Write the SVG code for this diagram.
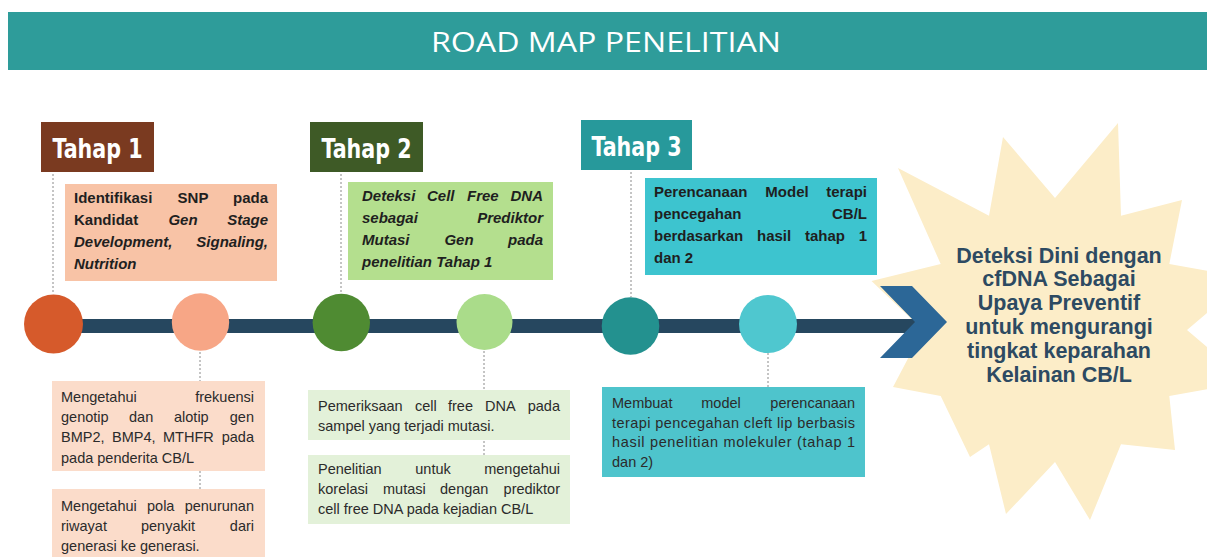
<svg xmlns="http://www.w3.org/2000/svg" width="1207" height="557" viewBox="0 0 1207 557">
  <style>
    .title { font-family: "Open Sans", "Liberation Sans", sans-serif; font-size: 27px; fill: #ffffff; }
    .stage { font-family: "DejaVu Sans Condensed", "DejaVu Sans", sans-serif; font-stretch: condensed; font-weight: bold; font-size: 26px; fill: #ffffff; text-anchor: middle; }
    .tb { font-family: "Liberation Sans", Arial, sans-serif; font-weight: bold; font-size: 15px; fill: #1f1f1f; }
    .it { font-style: italic; }
    .bb { font-family: "Liberation Sans", Arial, sans-serif; font-size: 14.5px; fill: #2b2b2b; }
    .end { text-anchor: end; }
    .mid { text-anchor: middle; }
    .goal { font-family: "Liberation Sans", Arial, sans-serif; font-weight: bold; font-size: 21.5px; fill: #2d4a62; text-anchor: middle; }
    .dash { stroke: #8a8a8a; stroke-width: 1; stroke-dasharray: 2 2; fill: none; }
  </style>

  <rect width="1207" height="557" fill="#ffffff"/>

  <!-- header band -->
  <g id="header">
    <rect x="8" y="12" width="1199" height="58" fill="#2e9c9a"/>
    <text class="title" x="431" y="52" textLength="350" lengthAdjust="spacingAndGlyphs">ROAD MAP PENELITIAN</text>
  </g>

  <!-- goal starburst -->
  <g id="goal">
    <polygon fill="#fcedc8" points="1118,123 1121,215.7 1182,200 1169.3,264 1248,278 1187,330 1248,382 1169.3,396 1175,450 1121,444.3 1090,520 1055,462 1006,514 989,444.3 970,457 940.7,396 893,387 923,330 871.5,281 940.7,264 898,168 989,215.7 1003,137 1055,198"/>
    <text class="goal" x="1059" y="263">Deteksi Dini dengan</text>
    <text class="goal" x="1059" y="286">cfDNA Sebagai</text>
    <text class="goal" x="1059" y="310">Upaya Preventif</text>
    <text class="goal" x="1059" y="334">untuk mengurangi</text>
    <text class="goal" x="1059" y="358">tingkat keparahan</text>
    <text class="goal" x="1059" y="382">Kelainan CB/L</text>
  </g>

  <!-- timeline bar and arrow head -->
  <g id="timeline">
    <rect x="53" y="319" width="865" height="14" fill="#26475f"/>
    <polygon fill="#2c6797" points="880,286 912,286 947,322 912,358 880,358 915,322"/>
  </g>

  <!-- dashed leader lines -->
  <g id="connectors">
    <line class="dash" x1="53" y1="174" x2="53" y2="294"/>
    <line class="dash" x1="341" y1="174" x2="341" y2="293"/>
    <line class="dash" x1="631" y1="172" x2="631" y2="297"/>
    <line class="dash" x1="200" y1="352" x2="200" y2="381"/>
    <line class="dash" x1="200" y1="471" x2="200" y2="489"/>
    <line class="dash" x1="484" y1="351" x2="484" y2="390"/>
    <line class="dash" x1="484" y1="441" x2="484" y2="455"/>
    <line class="dash" x1="768" y1="353" x2="768" y2="387"/>
  </g>

  <!-- milestones -->
  <g id="milestones">
    <circle cx="53.5" cy="324" r="29.5" fill="#d65a2b"/>
    <circle cx="200.5" cy="322" r="28.7" fill="#f7a686"/>
    <circle cx="341.3" cy="322.5" r="28.7" fill="#4f8b32"/>
    <circle cx="484.5" cy="322" r="28" fill="#aadc8a"/>
    <circle cx="630.5" cy="326" r="28.8" fill="#23918f"/>
    <circle cx="768" cy="324" r="29" fill="#4fc7cf"/>
  </g>

  <!-- stage labels -->
  <g id="tahap-1">
    <rect x="41" y="122" width="113" height="50" fill="#7a3a20"/>
    <text class="stage" x="97.5" y="158" textLength="90" lengthAdjust="spacingAndGlyphs">Tahap 1</text>
  </g>
  <g id="tahap-2">
    <rect x="310" y="122" width="113" height="50" fill="#3e5a26"/>
    <text class="stage" x="366.5" y="158" textLength="90" lengthAdjust="spacingAndGlyphs">Tahap 2</text>
  </g>
  <g id="tahap-3">
    <rect x="581" y="120" width="111" height="50" fill="#27999b"/>
    <text class="stage" x="636.5" y="156" textLength="90" lengthAdjust="spacingAndGlyphs">Tahap 3</text>
  </g>

  <!-- stage 1 objective -->
  <g id="objective-1">
    <rect x="65" y="184" width="212" height="97" fill="#f8c3a6"/>
    <text class="tb" y="203"><tspan x="74">Identifikasi</tspan><tspan x="193" class="mid">SNP</tspan><tspan x="268" class="end">pada</tspan></text>
    <text class="tb" y="225"><tspan x="74">Kandidat</tspan><tspan x="183" class="mid it">Gen</tspan><tspan x="268" class="end it">Stage</tspan></text>
    <text class="tb it" y="247"><tspan x="74">Development,</tspan><tspan x="268" class="end">Signaling,</tspan></text>
    <text class="tb it" x="74" y="269">Nutrition</text>
  </g>

  <!-- stage 2 objective -->
  <g id="objective-2">
    <rect x="348" y="182" width="205" height="98" fill="#b4df8e"/>
    <text class="tb it" y="201"><tspan x="362">Deteksi</tspan><tspan x="427">Cell</tspan><tspan x="467">Free</tspan><tspan x="543" class="end">DNA</tspan></text>
    <text class="tb it" y="223"><tspan x="362">sebagai</tspan><tspan x="543" class="end">Prediktor</tspan></text>
    <text class="tb it" y="245"><tspan x="362">Mutasi</tspan><tspan x="459" class="mid">Gen</tspan><tspan x="543" class="end">pada</tspan></text>
    <text class="tb it" x="362" y="267">penelitian Tahap 1</text>
  </g>

  <!-- stage 3 objective -->
  <g id="objective-3">
    <rect x="645" y="178" width="232" height="97" fill="#3dc4cf"/>
    <text class="tb" y="197"><tspan x="654">Perencanaan</tspan><tspan x="787" class="mid">Model</tspan><tspan x="867" class="end">terapi</tspan></text>
    <text class="tb" y="219"><tspan x="654">pencegahan</tspan><tspan x="867" class="end">CB/L</tspan></text>
    <text class="tb" y="241"><tspan x="654">berdasarkan</tspan><tspan x="757">hasil</tspan><tspan x="805">tahap</tspan><tspan x="867" class="end">1</tspan></text>
    <text class="tb" x="654" y="263">dan 2</text>
  </g>

  <!-- stage 1 activities -->
  <g id="activity-1a">
    <rect x="52" y="381" width="213" height="90" fill="#fbdcca"/>
    <text class="bb" y="402"><tspan x="61">Mengetahui</tspan><tspan x="254" class="end">frekuensi</tspan></text>
    <text class="bb" y="422"><tspan x="61">genotip</tspan><tspan x="129">dan</tspan><tspan x="174">alotip</tspan><tspan x="254" class="end">gen</tspan></text>
    <text class="bb" y="442"><tspan x="61">BMP2,</tspan><tspan x="112">BMP4,</tspan><tspan x="163">MTHFR</tspan><tspan x="254" class="end">pada</tspan></text>
    <text class="bb" x="61" y="463">pada penderita CB/L</text>
  </g>
  <g id="activity-1b">
    <rect x="52" y="489" width="213" height="68" fill="#fbdcca"/>
    <text class="bb" y="511"><tspan x="61">Mengetahui</tspan><tspan x="147">pola</tspan><tspan x="254" class="end">penurunan</tspan></text>
    <text class="bb" y="531"><tspan x="61">riwayat</tspan><tspan x="168" class="mid">penyakit</tspan><tspan x="254" class="end">dari</tspan></text>
    <text class="bb" x="61" y="551">generasi ke generasi.</text>
  </g>

  <!-- stage 2 activities -->
  <g id="activity-2a">
    <rect x="308" y="390" width="262" height="50" fill="#e3f1d9"/>
    <text class="bb" y="411"><tspan x="318">Pemeriksaan</tspan><tspan x="415">cell</tspan><tspan x="448">free</tspan><tspan x="485">DNA</tspan><tspan x="560" class="end">pada</tspan></text>
    <text class="bb" x="318" y="431">sampel yang terjadi mutasi.</text>
  </g>
  <g id="activity-2b">
    <rect x="308" y="455" width="262" height="69" fill="#e3f1d9"/>
    <text class="bb" y="474"><tspan x="318">Penelitian</tspan><tspan x="433" class="mid">untuk</tspan><tspan x="560" class="end">mengetahui</tspan></text>
    <text class="bb" y="494"><tspan x="318">korelasi</tspan><tspan x="383">mutasi</tspan><tspan x="440">dengan</tspan><tspan x="560" class="end">prediktor</tspan></text>
    <text class="bb" x="318" y="514">cell free DNA pada kejadian CB/L</text>
  </g>

  <!-- stage 3 activity -->
  <g id="activity-3">
    <rect x="602" y="387" width="263" height="90" fill="#4ec4cc"/>
    <text class="bb" y="408"><tspan x="612">Membuat</tspan><tspan x="721" class="mid">model</tspan><tspan x="855" class="end">perencanaan</tspan></text>
    <text class="bb" x="612" y="428" textLength="243" lengthAdjust="spacing">terapi pencegahan cleft lip berbasis</text>
    <text class="bb" x="612" y="447" textLength="243" lengthAdjust="spacing">hasil penelitian molekuler (tahap 1</text>
    <text class="bb" x="612" y="467">dan 2)</text>
  </g>
</svg>
